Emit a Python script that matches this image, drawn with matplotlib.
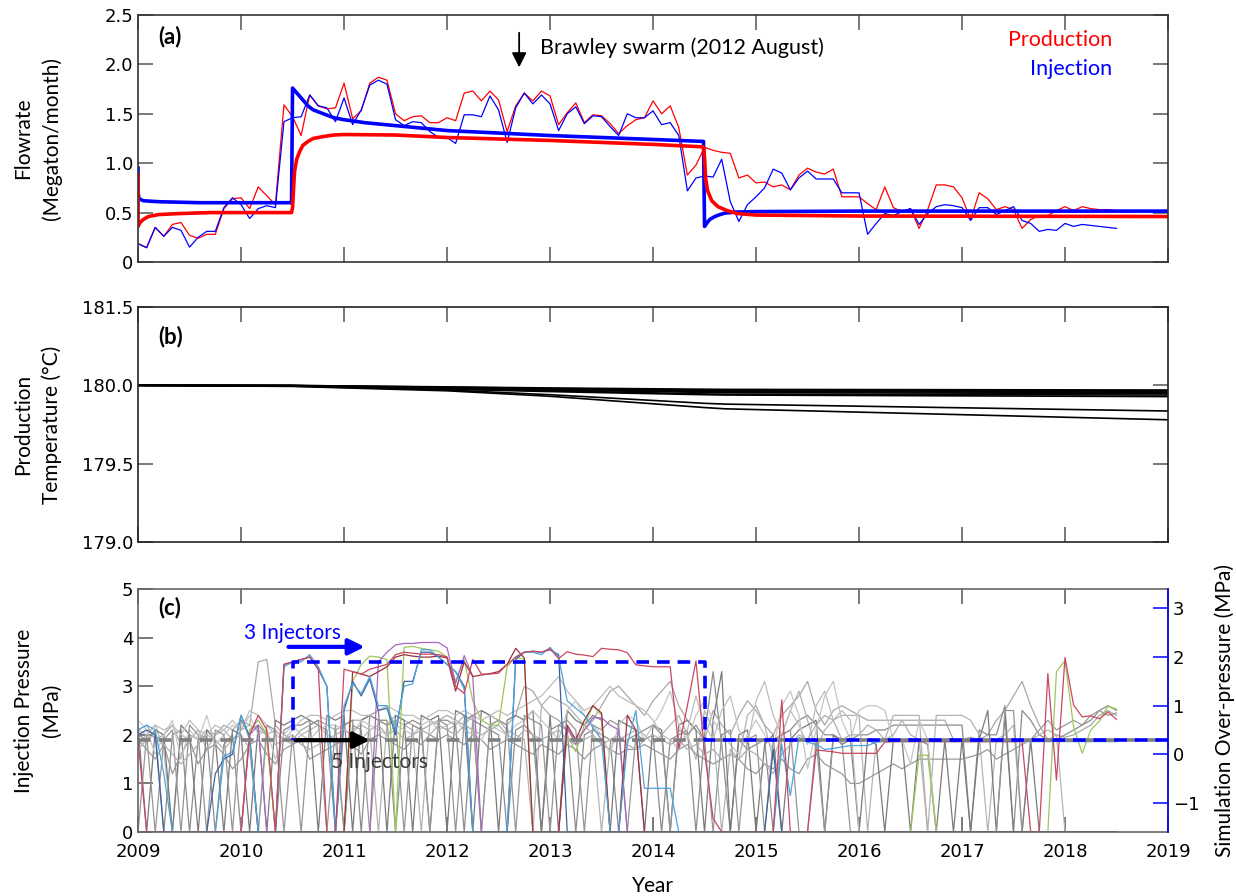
import numpy as np
import matplotlib
matplotlib.use("Agg")
import matplotlib.pyplot as plt

plt.rcParams['font.family'] = ['Lato', 'DejaVu Sans']

# ---------------- (a) monthly flow rates, Jan 2009 onwards ----------------
n_months = 115
months = 2009 + np.arange(n_months) / 12.0

prod_obs = [
    0.185, 0.145, 0.35, 0.26, 0.38, 0.40, 0.27, 0.24, 0.28, 0.28, 0.54, 0.64,
    0.65, 0.54, 0.76, 0.67, 0.58, 1.59, 1.47, 1.28, 1.69, 1.58, 1.55, 1.56,
    1.81, 1.45, 1.53, 1.81, 1.87, 1.84, 1.50, 1.43, 1.47, 1.48, 1.41, 1.41,
    1.46, 1.43, 1.71, 1.73, 1.63, 1.73, 1.64, 1.32, 1.58, 1.71, 1.63, 1.73,
    1.68, 1.39, 1.51, 1.61, 1.41, 1.49, 1.48, 1.40, 1.30, 1.38, 1.44, 1.46,
    1.63, 1.50, 1.58, 1.36, 0.88, 0.98, 1.16, 1.13, 1.11, 1.10, 0.85, 0.88,
    0.80, 0.81, 0.76, 0.78, 0.73, 0.88, 0.95, 0.91, 0.89, 0.94, 0.66, 0.66,
    0.66, 0.59, 0.53, 0.76, 0.55, 0.51, 0.54, 0.34, 0.53, 0.78, 0.78, 0.76,
    0.65, 0.43, 0.70, 0.64, 0.53, 0.56, 0.53, 0.34, 0.43, 0.47, 0.47, 0.52,
    0.56, 0.52, 0.56, 0.54, 0.53, 0.53, 0.52,
]
inj_obs = [
    0.185, 0.145, 0.35, 0.26, 0.35, 0.32, 0.15, 0.25, 0.31, 0.31, 0.55, 0.65,
    0.58, 0.44, 0.54, 0.57, 0.55, 1.42, 1.46, 1.47, 1.69, 1.58, 1.56, 1.42,
    1.66, 1.39, 1.54, 1.79, 1.84, 1.80, 1.44, 1.38, 1.42, 1.41, 1.32, 1.26,
    1.26, 1.20, 1.49, 1.49, 1.47, 1.68, 1.54, 1.21, 1.56, 1.71, 1.60, 1.69,
    1.60, 1.33, 1.50, 1.57, 1.40, 1.48, 1.47, 1.37, 1.28, 1.50, 1.46, 1.46,
    1.53, 1.39, 1.41, 1.28, 0.72, 0.85, 0.87, 0.86, 1.04, 0.61, 0.41, 0.58,
    0.66, 0.75, 0.94, 0.90, 0.73, 0.85, 0.92, 0.84, 0.84, 0.84, 0.70, 0.70,
    0.70, 0.28, 0.39, 0.49, 0.47, 0.51, 0.54, 0.38, 0.49, 0.56, 0.58, 0.57,
    0.55, 0.42, 0.55, 0.55, 0.48, 0.52, 0.56, 0.42, 0.39, 0.31, 0.33, 0.32,
    0.39, 0.36, 0.38, 0.37, 0.36, 0.35, 0.34,
]

# simulated rates
inj_model_t = [2009.0, 2009.0, 2009.01, 2009.05, 2009.2, 2009.6, 2010.0, 2010.49,
               2010.5, 2010.55, 2010.6, 2010.65, 2010.7, 2010.8, 2010.9, 2011.0,
               2011.2, 2011.5, 2012.0, 2013.0, 2014.0, 2014.49, 2014.5, 2014.52,
               2014.55, 2014.6, 2014.65, 2014.7, 2014.8, 2015.0, 2016.0, 2019.0]
inj_model_v = [0.95, 0.70, 0.64, 0.62, 0.61, 0.60, 0.60, 0.60,
               1.76, 1.70, 1.64, 1.58, 1.54, 1.50, 1.46, 1.44,
               1.41, 1.38, 1.33, 1.28, 1.24, 1.22, 0.36, 0.39,
               0.43, 0.46, 0.48, 0.495, 0.505, 0.51, 0.515, 0.515]

prod_model_t = [2009.0, 2009.0, 2009.02, 2009.05, 2009.1, 2009.2, 2009.4, 2009.7,
                2010.49, 2010.5, 2010.51, 2010.52, 2010.54, 2010.57, 2010.6,
                2010.65, 2010.7, 2010.8, 2010.9, 2011.0, 2011.5, 2012.0, 2013.0,
                2014.0, 2014.49, 2014.5, 2014.51, 2014.53, 2014.57, 2014.63,
                2014.72, 2014.82, 2015.0, 2016.0, 2019.0]
prod_model_v = [0.88, 0.36, 0.40, 0.43, 0.46, 0.48, 0.49, 0.50,
                0.50, 0.55, 0.75, 0.92, 1.04, 1.12, 1.18,
                1.22, 1.25, 1.27, 1.285, 1.29, 1.285, 1.26, 1.23,
                1.19, 1.165, 1.06, 0.85, 0.72, 0.62, 0.56,
                0.52, 0.49, 0.475, 0.465, 0.46]

# ---------------- (b) production temperature per well ----------------
temp_t = [2009.0, 2010.5, 2012.0, 2013.0, 2014.5, 2014.7, 2019.0]
temp_wells = [
    [180.0, 179.993, 179.965, 179.930, 179.858, 179.850, 179.780],
    [180.0, 179.995, 179.970, 179.940, 179.885, 179.880, 179.836],
    [180.0, 179.997, 179.975, 179.960, 179.940, 179.938, 179.928],
    [180.0, 179.997, 179.978, 179.965, 179.945, 179.943, 179.938],
    [180.0, 179.998, 179.980, 179.970, 179.955, 179.953, 179.948],
    [180.0, 179.998, 179.983, 179.975, 179.960, 179.959, 179.955],
    [180.0, 179.998, 179.985, 179.978, 179.965, 179.964, 179.960],
    [180.0, 179.999, 179.988, 179.980, 179.970, 179.969, 179.965],
    [180.0, 179.999, 179.990, 179.983, 179.975, 179.974, 179.970],
]
temp_ticks = [179.0, 179.5, 180.0, 180.5]
temp_ticklabels = ['179.0', '179.5', '180.0', '181.5']

# ---------------- (c) wellhead injection pressure (MPa), monthly ----------------
gray_wells = {
    '#a9a9a9': [
        2.1, 2.2, 1.9, 2.0, 2.2, 1.8, 2.0, 1.9, 2.1, 2.0, 2.2, 2.1,
        2.3, 2.2, 3.5, 3.55, 2.2, 2.0, 1.9, 2.1, 2.2, 2.3, 2.2, 2.1,
        2.2, 2.3, 2.3, 2.4, 2.3, 2.2, 2.4, 2.3, 2.2, 2.1, 2.2, 2.3,
        2.4, 2.3, 2.2, 2.4, 2.5, 2.4, 2.3, 2.2, 2.4, 3.0, 2.9, 2.6,
        2.4, 2.3, 2.1, 1.9, 2.1, 2.3, 2.6, 2.9, 3.0, 2.8, 2.6, 2.4,
        2.7, 2.9, 3.1, 2.6, 2.3, 2.1, 1.9, 2.5, 2.2, 2.0, 2.4, 2.7,
        2.5, 2.2, 2.0, 2.4, 2.6, 2.8, 3.1, 2.5, 2.2, 2.5, 2.6, 2.5,
        2.4, 2.3, 2.3, 2.3, 2.3, 2.3, 2.3, 2.3, 2.3, 2.3, 2.3, 1.9,
        1.9, 1.95, 1.9, 2.0, 2.3, 2.5, 2.8, 3.1, 2.6, 2.2, 1.9, 2.0,
        1.95, 2.0, 2.1, 2.2, 2.4, 2.5, 2.4,
    ],
    '#8c8c8c': [
        2.0, 1.9, 2.1, 0.0, 2.0, 2.1, 0.0, 1.9, 2.0, 0.0, 1.8, 2.0,
        0.0, 2.1, 2.2, 2.0, 0.0, 2.1, 2.2, 2.2, 2.3, 2.2, 2.1, 0.0,
        2.2, 2.3, 0.0, 2.4, 2.3, 2.3, 0.0, 2.2, 2.3, 2.2, 0.0, 2.3,
        2.3, 2.2, 0.0, 2.3, 2.2, 2.1, 2.0, 0.0, 2.1, 2.2, 2.0, 0.0,
        2.1, 2.2, 2.1, 0.0, 2.0, 2.1, 2.0, 1.9, 0.0, 1.9, 2.0, 1.9,
        2.0, 0.0, 1.9, 2.0, 2.1, 0.0, 2.0, 3.3, 1.8, 0.0, 1.9, 1.7,
        1.8, 1.9, 0.0, 2.0, 2.1, 2.3, 2.4, 2.2, 2.0, 2.0, 1.9, 1.9,
        2.0, 2.0, 2.1, 2.1, 2.2, 2.2, 2.2, 2.2, 2.2, 2.2, 2.2, 2.2,
        2.2, 0.0, 2.1, 2.0, 2.0, 2.6, 0.0, 2.5, 2.3, 2.0, 1.9, 1.9,
        2.0, 2.1, 2.2, 2.3, 2.5, 2.6, 2.5,
    ],
    '#b4b4b4': [
        1.8, 2.0, 2.2, 1.7, 0.0, 2.0, 1.9, 2.1, 1.7, 2.0, 2.1, 1.9,
        2.0, 1.7, 0.0, 2.0, 2.1, 1.9, 1.8, 2.0, 2.1, 2.2, 2.0, 1.9,
        0.0, 2.1, 2.2, 2.1, 0.0, 2.2, 2.3, 2.2, 2.1, 0.0, 2.3, 2.2,
        2.1, 2.2, 2.4, 2.3, 0.0, 2.2, 2.3, 2.1, 2.0, 1.9, 0.0, 2.6,
        2.8, 2.7, 2.6, 2.4, 2.2, 2.0, 0.0, 1.8, 1.9, 2.0, 2.1, 2.0,
        1.8, 2.0, 2.2, 2.4, 2.0, 1.5, 2.5, 2.1, 0.0, 1.7, 1.5, 2.4,
        2.6, 2.2, 1.5, 2.0, 2.5, 2.9, 2.3, 1.7, 2.1, 2.3, 2.4, 2.4,
        2.4, 0.0, 1.9, 1.9, 2.4, 2.4, 2.4, 2.4, 0.0, 2.4, 2.4, 2.4,
        2.4, 2.3, 2.0, 0.0, 1.9, 2.0, 2.2, 0.0, 1.9, 2.0, 2.1, 2.0,
        0.0, 0.0, 0.0, 0.0, 0.0, 0.0, 0.0,
    ],
    '#9a9a9a': [
        1.9, 1.7, 1.5, 1.8, 1.2, 1.6, 1.9, 1.4, 1.7, 1.8, 1.6, 1.3,
        1.5, 1.8, 1.9, 1.6, 1.4, 1.7, 1.8, 1.9, 1.5, 1.6, 1.7, 1.8,
        1.9, 1.8, 1.6, 1.9, 2.0, 1.9, 1.8, 1.7, 1.9, 1.8, 2.0, 1.9,
        2.0, 1.9, 1.8, 2.0, 1.9, 1.7, 1.8, 1.9, 1.8, 1.7, 1.6, 1.8,
        1.7, 1.6, 1.8, 1.7, 1.5, 1.7, 1.8, 1.7, 1.6, 1.7, 1.7, 1.8,
        1.7, 1.6, 1.5, 1.7, 1.8, 1.6, 1.5, 1.4, 1.5, 1.6, 1.5, 1.3,
        1.2, 1.4, 1.3, 1.5, 1.3, 1.2, 1.5, 1.6, 1.4, 1.3, 1.2, 1.0,
        1.0, 1.1, 1.2, 1.3, 1.4, 1.3, 1.4, 1.5, 1.5, 1.5, 1.5, 1.5,
        1.5, 1.55, 1.6, 1.7, 1.5, 1.6, 1.7, 1.8, 1.9, 2.1, 2.3, 2.1,
        2.2, 2.3, 2.2, 2.4, 2.5, 2.4, 2.45,
    ],
    '#7a7a7a': [
        2.2, 0.0, 2.1, 2.0, 0.0, 2.2, 2.0, 0.0, 2.1, 1.9, 0.0, 2.1,
        2.0, 0.0, 2.2, 0.0, 2.3, 2.2, 2.3, 2.4, 2.3, 0.0, 2.4, 2.3,
        2.4, 0.0, 2.3, 2.4, 2.5, 0.0, 2.4, 2.3, 0.0, 2.4, 2.3, 2.4,
        0.0, 2.5, 2.4, 0.0, 2.5, 2.4, 0.0, 2.3, 2.4, 2.3, 2.5, 0.0,
        2.4, 0.0, 2.5, 2.3, 2.2, 2.4, 2.3, 0.0, 2.3, 2.2, 2.1, 0.0,
        2.2, 2.1, 0.0, 2.2, 2.3, 2.1, 0.0, 2.3, 3.3, 0.0, 2.0, 2.1,
        0.0, 1.8, 2.0, 0.0, 1.9, 2.1, 2.2, 2.3, 0.0, 2.0, 1.8, 1.9,
        0.0, 1.9, 1.8, 0.0, 1.9, 1.9, 0.0, 1.9, 1.8, 0.0, 1.9, 0.0,
        1.9, 0.0, 1.9, 2.5, 0.0, 2.4, 0.0, 0.0, 1.9, 0.0, 0.0, 0.0,
        0.0, 0.0, 0.0, 0.0, 0.0, 0.0, 0.0,
    ],
    '#bdbdbd': [
        2.1, 2.0, 2.2, 2.1, 2.2, 2.0, 2.3, 2.1, 2.0, 2.2, 2.1, 2.3,
        2.1, 2.5, 2.4, 2.2, 2.0, 1.9, 2.1, 2.3, 2.4, 2.4, 2.3, 2.4,
        2.5, 2.5, 2.4, 2.4, 2.5, 2.6, 2.5, 2.4, 2.4, 2.3, 2.4, 2.5,
        2.5, 2.4, 2.5, 2.4, 2.3, 2.4, 2.5, 2.4, 2.5, 2.6, 2.7, 2.8,
        3.0, 3.2, 2.9, 2.7, 2.5, 2.6, 2.8, 3.0, 2.8, 2.7, 2.6, 2.5,
        2.3, 2.0, 1.9, 1.7, 2.1, 2.8, 2.2, 1.9, 2.5, 2.8, 2.1, 1.8,
        2.7, 3.1, 2.4, 2.0, 2.5, 2.2, 1.8, 2.6, 2.9, 2.3, 2.5, 2.3,
        0.0, 0.0, 0.0, 0.0, 0.0, 0.0, 0.0, 0.0, 0.0, 0.0, 0.0, 0.0,
        0.0, 0.0, 0.0, 0.0, 0.0, 0.0, 0.0, 0.0, 0.0, 0.0, 0.0, 0.0,
        0.0, 0.0, 0.0, 0.0, 0.0, 0.0, 0.0,
    ],
    '#c6c6c6': [
        2.3, 2.1, 1.6, 2.0, 2.3, 1.5, 2.1, 1.9, 2.4, 1.8, 2.0, 2.2,
        2.1, 2.4, 2.0, 2.1, 1.5, 2.0, 2.2, 2.0, 1.9, 2.1, 2.2, 2.2,
        2.1, 2.0, 2.3, 2.2, 2.1, 2.0, 2.2, 2.1, 2.0, 2.2, 2.3, 2.1,
        2.2, 2.3, 2.1, 2.0, 1.9, 2.2, 2.1, 2.0, 2.2, 2.3, 2.5, 2.3,
        2.1, 1.9, 2.5, 2.7, 2.4, 2.2, 2.0, 1.6, 2.2, 2.4, 2.3, 1.9,
        2.2, 2.5, 2.9, 2.2, 1.9, 2.4, 2.7, 2.3, 2.0, 1.8, 1.6, 2.0,
        2.3, 2.0, 1.7, 2.6, 2.9, 2.4, 1.3, 2.1, 2.8, 3.1, 2.3, 1.9,
        2.5, 2.6, 2.6, 2.5, 1.9, 1.9, 1.4, 2.3, 1.9, 0.0, 0.0, 0.0,
        0.0, 0.0, 0.0, 0.0, 0.0, 0.0, 0.0, 0.0, 0.0, 0.0, 0.0, 0.0,
        0.0, 0.0, 0.0, 0.0, 0.0, 0.0, 0.0,
    ],
    '#969696': [
        0.0, 2.0, 0.0, 1.9, 2.1, 0.0, 2.2, 2.0, 0.0, 2.1, 2.0, 0.0,
        2.3, 2.0, 0.0, 2.2, 2.1, 0.0, 2.0, 0.0, 2.2, 2.3, 0.0, 2.2,
        0.0, 2.2, 2.1, 0.0, 2.3, 2.2, 2.3, 0.0, 2.2, 2.1, 0.0, 2.3,
        2.2, 0.0, 2.3, 2.4, 0.0, 2.2, 2.3, 2.2, 0.0, 2.4, 2.3, 2.2,
        0.0, 2.2, 2.3, 2.1, 0.0, 2.2, 2.1, 2.3, 2.2, 0.0, 2.0, 2.1,
        2.2, 2.0, 0.0, 2.1, 2.0, 2.2, 1.9, 0.0, 2.0, 2.1, 0.0, 1.9,
        2.0, 0.0, 1.9, 2.0, 2.1, 0.0, 0.0, 1.9, 0.0, 1.9, 1.9, 0.0,
        0.0, 0.0, 0.0, 0.0, 0.0, 0.0, 0.0, 0.0, 0.0, 0.0, 0.0, 0.0,
        0.0, 0.0, 0.0, 0.0, 0.0, 2.5, 2.5, 0.0, 0.0, 0.0, 0.0, 0.0,
        0.0, 0.0, 0.0, 0.0, 0.0, 0.0, 0.0,
    ],
    '#b0b0b0': [
        1.7, 1.9, 2.0, 1.8, 1.6, 1.4, 1.6, 1.8, 2.0, 1.9, 1.7, 1.9,
        2.1, 2.2, 2.1, 2.0, 1.8, 1.9, 2.0, 1.8, 1.7, 1.8, 1.9, 2.0,
        2.1, 2.0, 1.9, 2.1, 2.2, 2.0, 2.1, 1.9, 2.0, 2.1, 2.0, 2.2,
        2.1, 2.0, 2.2, 2.1, 2.0, 2.1, 2.2, 2.0, 1.9, 2.1, 2.0, 1.9,
        2.0, 2.1, 1.9, 1.8, 1.9, 2.0, 1.8, 1.9, 2.0, 1.8, 1.7, 1.9,
        2.0, 1.9, 1.8, 1.9, 1.7, 1.8, 1.6, 1.7, 1.5, 1.6, 1.5, 1.7,
        1.6, 1.4, 1.2, 1.6, 1.8, 2.0, 1.9, 2.2, 2.4, 2.3, 1.9, 2.0,
        2.0, 2.2, 2.1, 1.9, 2.0, 2.3, 2.0, 1.9, 0.0, 0.0, 0.0, 0.0,
        0.0, 0.0, 0.0, 0.0, 0.0, 0.0, 0.0, 0.0, 0.0, 0.0, 0.0, 0.0,
        0.0, 0.0, 0.0, 0.0, 0.0, 0.0, 0.0,
    ],
}

colored_wells = {
    '#9bc75b': [
        0, 0, 0, 0, 0, 0, 0, 0, 0, 0, 0, 0,
        0, 2.1, 2.3, 2.0, 0, 0, 0, 0, 0, 0, 0, 0,
        0, 3.1, 3.45, 3.62, 3.6, 3.55, 0, 3.8, 3.82, 3.78, 3.75, 3.72,
        3.6, 3.1, 3.55, 2.7, 2.3, 2.2, 2.2, 3.4, 3.6, 3.55, 0, 0,
        0, 0, 2.0, 1.65, 2.2, 2.6, 2.4, 0, 0, 0, 0, 0,
        0, 0, 0, 0, 0, 0, 0, 0, 0, 0, 0, 0,
        0, 0, 0, 0, 0, 0, 0, 0, 0, 0, 0, 0,
        0, 0, 0, 0, 0, 0, 0, 1.58, 1.58, 0, 0, 0,
        0, 0, 0, 0, 0, 0, 0, 0, 0, 0, 0, 3.3,
        3.53, 2.16, 1.62, 2.1, 2.28, 2.59, 2.53,
    ],
    '#a866c2': [
        0, 0, 0, 0, 0, 0, 0, 0, 0, 0, 0, 0,
        0, 2.0, 2.2, 0, 0, 0, 0, 0, 0, 0, 0, 0,
        0, 0, 0, 0, 3.5, 3.7, 3.85, 3.88, 3.88, 3.9, 3.9, 3.9,
        3.79, 3.06, 3.63, 3.2, 0, 0, 0, 0, 0, 0, 0, 0,
        0, 0, 2.15, 1.8, 2.1, 2.35, 2.35, 2.2, 2.1, 0, 0, 0,
        0, 0, 0, 0, 0, 0, 0, 0, 0, 0, 0, 0,
        0, 0, 0, 0, 0, 0, 0, 0, 0, 0, 0, 0,
        0, 0, 0, 0, 0, 0, 0, 0, 0, 0, 0, 0,
        0, 0, 0, 0, 0, 0, 0, 0, 0, 0, 0, 0,
        0, 0, 0, 0, 0, 0, 0,
    ],
    '#9e2f3f': [
        0, 0, 0, 0, 0, 0, 0, 0, 0, 0, 0, 0,
        0, 0, 0, 0, 0, 0, 0, 0, 0, 0, 0, 0,
        0, 3.3, 3.25, 3.2, 3.3, 3.4, 3.6, 3.65, 3.62, 3.6, 3.6, 3.62,
        3.58, 2.9, 3.5, 3.2, 3.23, 3.26, 3.3, 3.45, 3.78, 3.58, 0, 0,
        0, 0, 2.2, 1.9, 2.3, 2.6, 2.45, 0, 0, 2.4, 2.1, 0,
        0, 0, 0, 0, 0, 0, 0, 0, 0, 0, 0, 0,
        0, 0, 0, 0, 0, 0, 0, 0, 0, 0, 0, 0,
        0, 0, 0, 0, 0, 0, 0, 0, 0, 0, 0, 0,
        0, 0, 0, 0, 0, 0, 0, 0, 0, 0, 0, 0,
        0, 0, 0, 0, 0, 0, 0,
    ],
    '#3f5f9f': [
        2.0, 2.1, 2.0, 0, 0, 0, 0, 0, 0, 1.2, 1.5, 1.6,
        2.4, 1.95, 0, 0, 0, 3.45, 3.5, 3.55, 3.6, 3.35, 3.0, 0,
        2.5, 3.1, 2.8, 3.15, 2.5, 2.55, 2.0, 3.1, 3.1, 3.7, 3.7, 3.6,
        3.45, 3.3, 3.0, 0, 0, 0, 0, 0, 3.55, 3.7, 3.72, 3.7,
        3.75, 3.65, 0, 0, 0, 0, 0, 0, 0, 0, 0, 0,
        0, 0, 0, 0, 0, 0, 0, 0, 0, 0, 0, 0,
        0, 0, 1.7, 0, 0, 0, 0, 0, 0, 0, 0, 0,
        0, 0, 0, 0, 0, 0, 0, 0, 0, 0, 0, 0,
        0, 0, 0, 0, 0, 0, 0, 0, 0, 0, 0, 0,
        0, 0, 0, 0, 0, 0, 0,
    ],
    '#4fa3dc': [
        2.1, 2.2, 2.1, 1.2, 0, 0, 0, 0, 0, 0, 1.55, 1.65,
        2.4, 1.9, 0, 0, 0, 3.4, 3.5, 3.5, 3.65, 3.4, 3.0, 0,
        2.6, 3.05, 2.85, 3.2, 2.6, 2.6, 2.1, 3.0, 3.05, 3.75, 3.75, 3.6,
        3.45, 3.3, 2.95, 0, 0, 0, 0, 0, 3.6, 3.7, 3.7, 3.65,
        3.8, 3.6, 2.7, 2.55, 2.4, 2.15, 1.9, 0, 0, 1.8, 2.5, 0.9,
        0.9, 0.9, 0.9, 0, 0, 0, 0, 0, 0, 0, 0, 0,
        0, 0, 0, 1.8, 0.75, 1.95, 1.85, 1.8, 1.7, 1.72, 1.75, 1.78,
        1.78, 1.78, 1.85, 1.86, 1.86, 1.86, 1.86, 1.86, 1.86, 1.86, 1.86, 1.86,
        1.86, 1.86, 1.86, 1.86, 1.86, 1.86, 1.86, 1.86, 1.86, 1.86, 1.86, 1.86,
        1.86, 1.86, 1.86, 1.86, 1.86, 1.86, 1.86,
    ],
    '#c9475f': [
        1.9, 0, 0, 0, 0, 0, 0, 0, 0, 0, 0, 0,
        0, 2.0, 2.4, 2.1, 0, 3.45, 3.5, 3.55, 3.6, 3.35, 0, 0,
        3.35, 3.3, 3.25, 3.35, 3.4, 3.45, 3.65, 3.7, 3.68, 3.66, 3.66, 3.65,
        3.6, 3.0, 2.85, 3.55, 3.25, 3.25, 3.27, 3.45, 3.6, 3.7, 3.72, 3.7,
        3.77, 3.57, 3.71, 3.66, 3.64, 3.61, 3.78, 3.76, 3.75, 3.69, 3.44, 3.42,
        3.4, 3.4, 3.4, 1.72, 2.6, 3.52, 1.65, 0.28, 0, 0, 0, 0,
        0, 0, 0, 2.72, 0, 0, 0, 1.69, 1.67, 1.65, 1.62, 1.62,
        1.62, 1.62, 1.62, 1.85, 1.86, 1.86, 1.86, 1.86, 1.86, 1.86, 1.86, 1.86,
        1.86, 1.86, 1.86, 1.86, 1.86, 1.86, 1.86, 1.86, 0, 0, 3.26, 1.07,
        3.59, 2.61, 2.37, 2.39, 2.33, 2.47, 2.32,
    ],
}

# simulated over-pressure at the injectors (right axis, MPa)
over_t = [2010.5, 2010.5, 2014.5, 2014.5, 2019.0]
over_p = [0.29, 1.9, 1.9, 0.29, 0.29]
baseline_pressure = 1.89

years = list(range(2009, 2020))

fig = plt.figure(figsize=(12.36, 8.96), dpi=100)
ax_a = fig.add_axes([0.1117, 0.7076, 0.8333, 0.2757])
ax_b = fig.add_axes([0.1117, 0.3951, 0.8333, 0.2623])
ax_c = fig.add_axes([0.1117, 0.0714, 0.8333, 0.2712])


def style(ax, spine_color='#333333'):
    ax.set_xlim(2009, 2019)
    ax.set_xticks(years)
    ax.tick_params(direction='in', length=11, width=1.1, top=True, right=True,
                   color='#555555', labelsize=13, labelfontfamily='DejaVu Sans')
    for sp in ax.spines.values():
        sp.set_color(spine_color)
        sp.set_linewidth(1.2)


# (a) flow rates
style(ax_a)
ax_a.plot(months, prod_obs, color='red', lw=0.9)
ax_a.plot(months, inj_obs, color='blue', lw=0.9)
ax_a.plot(inj_model_t, inj_model_v, color='blue', lw=2.6)
ax_a.plot(prod_model_t, prod_model_v, color='red', lw=2.6)
ax_a.set_ylim(0, 2.5)
ax_a.set_yticks([0, 0.5, 1.0, 1.5, 2.0, 2.5])
ax_a.set_yticklabels(['0', '0.5', '1.0', '1.5', '2.0', '2.5'])
ax_a.tick_params(labelbottom=False)
ax_a.set_ylabel('Flowrate\n(Megaton/month)', fontsize=15, linespacing=1.5)
ax_a.yaxis.set_label_coords(-0.074, 0.5)
ax_a.text(2009.2, 2.28, '(a)', fontsize=16, fontweight='bold', va='center')
ax_a.annotate('', xy=(2012.7, 1.97), xytext=(2012.7, 2.32),
              arrowprops=dict(arrowstyle='-|>', color='black', lw=1.3,
                              mutation_scale=22, shrinkA=0, shrinkB=0))
ax_a.text(2012.9, 2.17, 'Brawley swarm (2012 August)', fontsize=15.5, va='center')
ax_a.text(2018.46, 2.25, 'Production', color='red', fontsize=15.5, ha='right', va='center')
ax_a.text(2018.46, 1.95, 'Injection', color='blue', fontsize=15.5, ha='right', va='center')

# (b) production temperature
style(ax_b, '#222222')
for w in temp_wells:
    ax_b.plot(temp_t, w, color='black', lw=1.2)
ax_b.set_ylim(179.0, 180.5)
ax_b.set_yticks(temp_ticks)
ax_b.set_yticklabels(temp_ticklabels)
ax_b.tick_params(labelbottom=False)
ax_b.set_ylabel('Production\nTemperature (\u00b0C)', fontsize=15, linespacing=1.5)
ax_b.yaxis.set_label_coords(-0.074, 0.5)
ax_b.text(2009.2, 180.31, '(b)', fontsize=16, fontweight='bold', va='center')

# (c) injection pressure with simulated over-pressure
style(ax_c, '#666666')
ax_c.tick_params(right=False)
ax_c.tick_params(axis='x', pad=8)
for c, w in gray_wells.items():
    ax_c.plot(months, w, color=c, lw=0.9)
for c, w in colored_wells.items():
    ax_c.plot(months, w, color=c, lw=0.9)
ax_c.axhline(baseline_pressure, color='#808080', lw=2.6, ls=(0, (3.5, 2.2)))
ax_c.set_ylim(0, 5)
ax_c.set_yticks(range(0, 6))
ax_c.set_xticklabels([str(y) for y in years])
ax_c.set_ylabel('Injection Pressure\n(MPa)', fontsize=15, linespacing=1.5)
ax_c.yaxis.set_label_coords(-0.074, 0.5)
ax_c.set_xlabel('Year', fontsize=15)
ax_c.xaxis.set_label_coords(0.5, -0.18)
ax_c.text(2009.2, 4.62, '(c)', fontsize=16, fontweight='bold', va='center')

ax_c2 = ax_c.twinx()
ax_c2.plot(over_t, over_p, color='blue', lw=2.6, ls=(3, (3.5, 2.2)))
ax_c2.set_ylim(-1.6, 3.4)
ax_c2.set_yticks([-1, 0, 1, 2, 3])
ax_c2.tick_params(axis='y', direction='in', length=11, width=1.1, color='blue',
                  labelcolor='black', labelsize=13, labelfontfamily='DejaVu Sans')
for name, sp in ax_c2.spines.items():
    sp.set_visible(name == 'right')
ax_c2.spines['right'].set_color('blue')
ax_c2.spines['right'].set_linewidth(1.2)
ax_c2.set_ylabel('Simulation Over-pressure (MPa)', fontsize=15)
ax_c2.yaxis.set_label_coords(1.045, 0.5)

ax_c.annotate('', xy=(2011.2, 3.81), xytext=(2010.46, 3.81),
              arrowprops=dict(arrowstyle='-|>', color='blue', lw=3,
                              mutation_scale=24, shrinkA=0, shrinkB=0))
ax_c.text(2010.5, 4.1, '3 Injectors', color='blue', fontsize=15, ha='center', va='center')
ax_c.annotate('', xy=(2011.25, 1.89), xytext=(2010.53, 1.89),
              arrowprops=dict(arrowstyle='-|>', color='black', lw=3,
                              mutation_scale=24, shrinkA=0, shrinkB=0), zorder=5)
ax_c.text(2011.34, 1.44, '5 Injectors', color='#3a3a3a', fontsize=15, ha='center', va='center')

fig.savefig('out.png', dpi=100)
